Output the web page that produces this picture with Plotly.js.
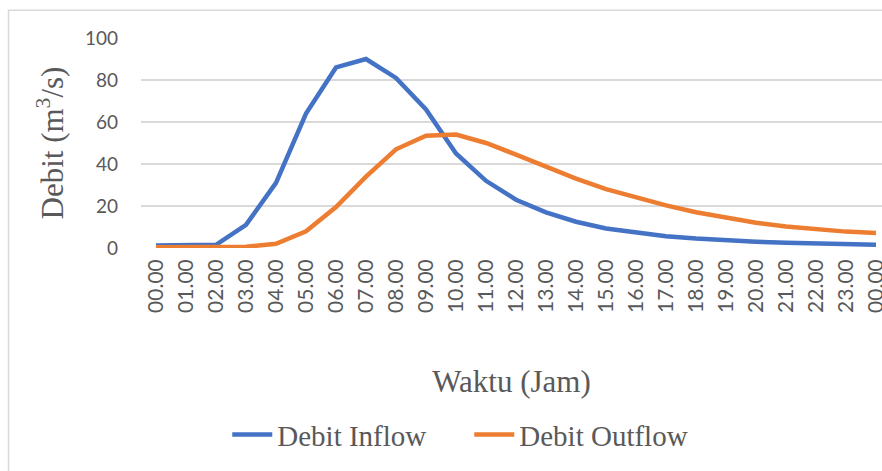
<!DOCTYPE html>
<html>
<head>
<meta charset="utf-8">
<script src="https://cdn.plot.ly/plotly-3.0.1.min.js"></script>
<style>html,body{margin:0;padding:0;background:#fff}#chart{width:882px;height:471px}</style>
</head>
<body>
<div id="chart"></div>
<script>
const waktu = ["00.00","01.00","02.00","03.00","04.00","05.00","06.00","07.00","08.00","09.00","10.00","11.00","12.00","13.00","14.00","15.00","16.00","17.00","18.00","19.00","20.00","21.00","22.00","23.00","00.00"];
const debitInflow = [1.2,1.2,1.5,11,31,64,86,90,81,66,45,32,23,17,12.5,9.3,7.2,5.6,4.5,3.6,3.0,2.5,2.1,1.8,1.5];
const debitOutflow = [0.3,0.3,0.3,0.6,2,8,19.5,34,47,53.5,54,50,44.5,38.5,33,28,24,20.3,17,14.3,12,10.2,8.8,7.8,7.1];
const idx = waktu.map((_, i) => i);

const traces = [
  {x: idx, y: debitInflow, name: "Debit Inflow", type: "scatter", mode: "lines",
   line: {color: "#4472C4", width: 4.5}},
  {x: idx, y: debitOutflow, name: "Debit Outflow", type: "scatter", mode: "lines",
   line: {color: "#ED7D31", width: 4.5}}
];

const serif = "Liberation Serif, Times New Roman, serif";
const layout = {
  width: 882, height: 471,
  margin: {l: 141, r: 0, t: 38, b: 223, pad: 0},
  paper_bgcolor: "#fff", plot_bgcolor: "#fff",
  showlegend: true,
  font: {family: "Lato, sans-serif", color: "#595959"},
  xaxis: {
    range: [-0.5, 24.2],
    tickmode: "array", tickvals: idx, ticktext: waktu,
    tickangle: -90, tickfont: {family: "Lato, sans-serif", size: 21, color: "#595959"},
    ticklabeloverflow: "allow",
    showgrid: false, zeroline: false, showline: false, ticks: "",
    ticklabelstandoff: 6,
    title: {text: "Waktu (Jam)", font: {family: serif, size: 31, color: "#595959"}, standoff: 58},
    automargin: false
  },
  yaxis: {
    range: [0, 100], tickvals: [0,20,40,60,80,100],
    tickfont: {family: "Lato, sans-serif", size: 19, color: "#595959"},
    showgrid: true, gridcolor: "#D9D9D9", gridwidth: 1.3,
    zeroline: false, showline: false, ticks: "",
    ticklabelstandoff: 22,
    title: {text: "Debit (m<sup>3</sup>/s)", font: {family: serif, size: 31, color: "#595959"}, standoff: 12},
    automargin: false
  },
  legend: {
    orientation: "h", x: 0.443, xanchor: "center", y: -0.889, yanchor: "middle",
    font: {family: serif, size: 29, color: "#595959"},
    entrywidth: 187, entrywidthmode: "pixels",
    itemwidth: 40, bgcolor: "rgba(0,0,0,0)"
  },
  shapes: [
    {type: "rect", xref: "paper", yref: "paper", x0: -0.1788, x1: 1.2, y0: -1.4, y1: 1.132,
     line: {color: "#D9D9D9", width: 1.5}, fillcolor: "rgba(0,0,0,0)", layer: "below"}
  ]
};

Plotly.newPlot("chart", traces, layout, {displayModeBar: false, staticPlot: true});
</script>
</body>
</html>
